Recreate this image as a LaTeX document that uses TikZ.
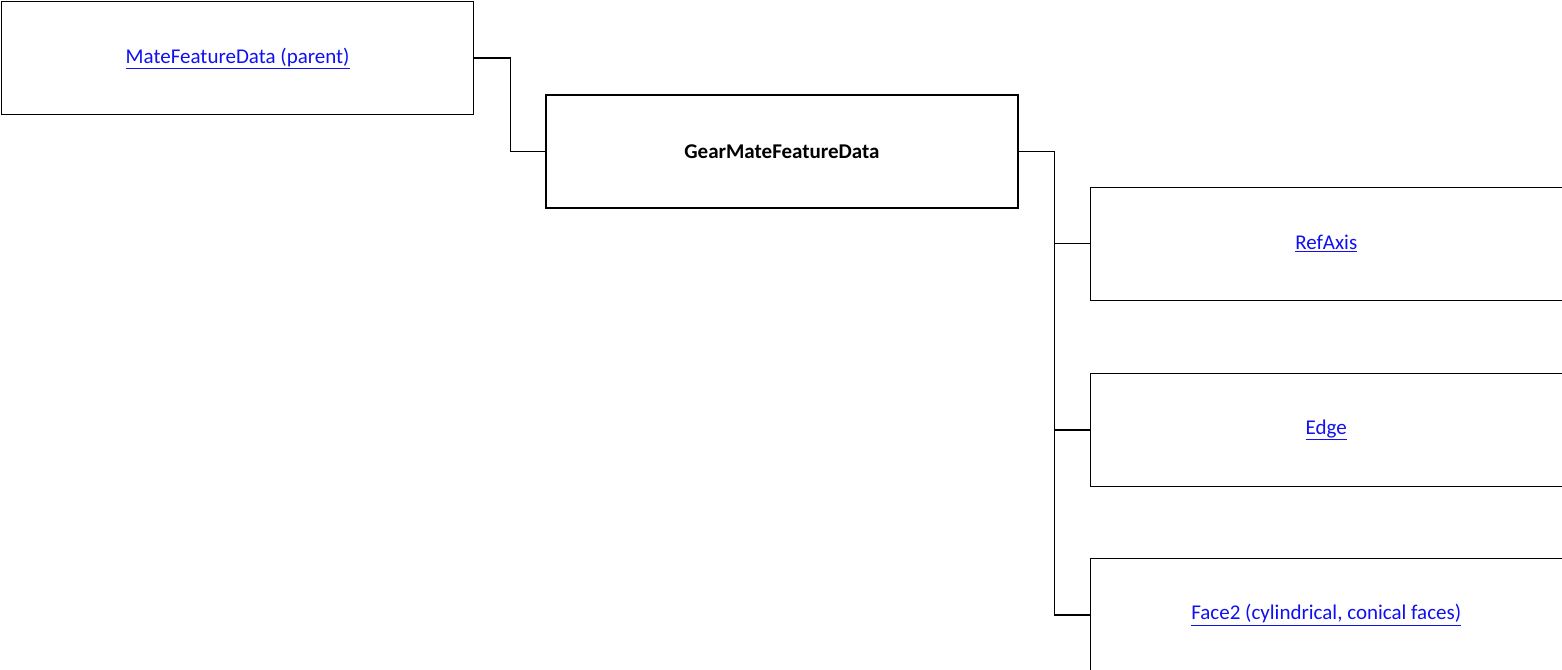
\documentclass[tikz,border=0pt]{standalone}
\usepackage{fontspec}
\setmainfont{Carlito}
\usetikzlibrary{positioning}
\newcommand{\lnk}[1]{\textcolor{linkblue}{\underline{#1}}}
\definecolor{linkblue}{RGB}{16,16,240}
\tikzset{
  osztaly/.style={draw,line width=1.3pt,minimum width=472pt,minimum height=113pt,
                  inner sep=0pt,align=center,font=\fontsize{21}{25}\selectfont},
  vonal/.style={line width=1.3pt},
}

\begin{document}
\begin{tikzpicture}
  \useasboundingbox (0,0) rectangle (1562pt,-669pt);
  \node[osztaly,anchor=north west] (mfd) at (1pt,-1pt) {\lnk{MateFeatureData (parent)}};
  \node[osztaly,below right=-21pt and 71pt of mfd] (gear) {\textbf{GearMateFeatureData}};
  \node[osztaly,below right=-22pt and 71pt of gear] (refaxis) {\lnk{RefAxis}};
  \node[osztaly,below=71.8pt of refaxis] (edge) {\lnk{Edge}};
  \node[osztaly,below=70.8pt of edge] (face) {\lnk{Face2 (cylindrical, conical faces)}};
  % konnektorok
  \draw[vonal] (mfd.east) -- ++(36pt,0) |- (gear.west);
  \draw[vonal] (gear.east) -- ++(36pt,0) coordinate (torzs);
  \draw[vonal] (torzs) |- (refaxis.west);
  \draw[vonal] (torzs) |- (edge.west);
  \draw[vonal] (torzs) |- (face.west);
\end{tikzpicture}
\end{document}
